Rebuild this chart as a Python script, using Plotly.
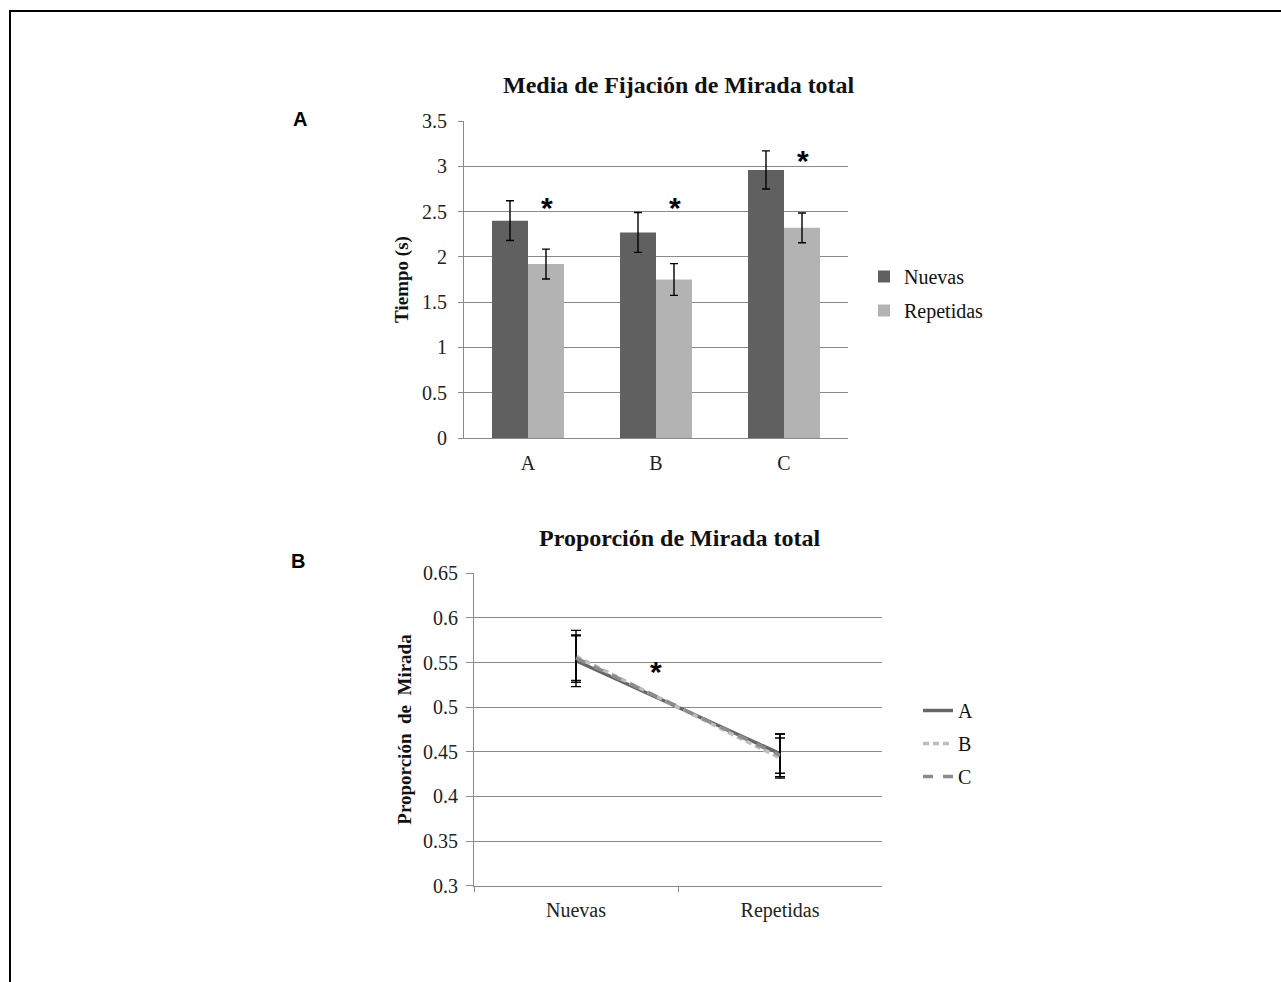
import plotly.graph_objects as go

W, H = 1281, 982

# ---- Data: panel A (bar chart) ----
categories = ["A", "B", "C"]
nuevas = [2.40, 2.27, 2.96]
nuevas_err = [0.22, 0.22, 0.21]
repetidas = [1.92, 1.75, 2.32]
repetidas_err = [0.165, 0.175, 0.165]
star_top_y = [2.59, 2.59, 3.11]

# ---- Data: panel B (line chart) ----
conditions = ["Nuevas", "Repetidas"]
prop_A = [0.552, 0.448]
err_A = [0.029, 0.022]
prop_B = [0.557, 0.443]
err_B = [0.029, 0.0225]
prop_C = [0.555, 0.446]
err_C = [0.025, 0.024]
star_bottom = (0.39, 0.545)

top_ticks = [0, 0.5, 1, 1.5, 2, 2.5, 3, 3.5]
top_ticktext = ["0", "0.5", "1", "1.5", "2", "2.5", "3", "3.5"]
bot_ticks = [0.3, 0.35, 0.4, 0.45, 0.5, 0.55, 0.6, 0.65]
bot_ticktext = ["0.3", "0.35", "0.4", "0.45", "0.5", "0.55", "0.6", "0.65"]

SERIF = "Liberation Serif, Times New Roman, serif"
SANS = "Liberation Sans, Arial, sans-serif"
GRID = "#8a8a8a"
DARK = "#606060"
LIGHT = "#b3b3b3"


def px(x):
    return x / W


def py(y):
    return 1 - y / H


fig = go.Figure()

fig.add_trace(go.Bar(
    x=categories, y=nuevas, name="Nuevas", marker=dict(color=DARK, line=dict(width=0)),
    error_y=dict(type="data", array=nuevas_err, color="black", thickness=1.4, width=4),
    xaxis="x", yaxis="y", legend="legend", legendgroup="n",
))
fig.add_trace(go.Bar(
    x=categories, y=repetidas, name="Repetidas", marker=dict(color=LIGHT, line=dict(width=0)),
    error_y=dict(type="data", array=repetidas_err, color="black", thickness=1.4, width=4),
    xaxis="x", yaxis="y", legend="legend", legendgroup="r",
))

line_specs = [
    ("A", prop_A, err_A, "#666666", "solid"),
    ("B", prop_B, err_B, "#bdbdbd", "6px,4px"),
    ("C", prop_C, err_C, "#8c8c8c", "10px,10px"),
]
for name, vals, errs, col, dash in line_specs:
    fig.add_trace(go.Scatter(
        x=conditions, y=vals, name=name, mode="lines",
        line=dict(color=col, width=3.5, dash=dash),
        error_y=dict(type="data", array=errs, color="black", thickness=1.4, width=5),
        xaxis="x2", yaxis="y2", legend="legend2", legendgroup=name,
    ))

tick_font = dict(family=SERIF, size=20, color="#222222")
axis_title_font = dict(family=SERIF, size=19, color="#111")

fig.update_layout(
    width=W, height=H,
    margin=dict(l=0, r=0, t=0, b=0, autoexpand=False),
    paper_bgcolor="white", plot_bgcolor="white",
    barmode="group", bargap=0.4375, bargroupgap=0,
    xaxis=dict(domain=[px(464), px(848)], anchor="y", type="category", automargin=False,
               range=[-0.5, 2.5],
               showgrid=False, showline=True, linecolor=GRID, linewidth=1,
               ticks="", tickfont=tick_font, ticklabelstandoff=7, fixedrange=True),
    yaxis=dict(domain=[py(438), py(121)], anchor="x", range=[0, 3.5], automargin=False,
               tickvals=top_ticks, ticktext=top_ticktext,
               showgrid=True, gridcolor=GRID, gridwidth=1,
               showline=True, linecolor=GRID, linewidth=1,
               ticks="outside", ticklen=5, tickcolor=GRID, tickfont=tick_font,
               ticklabelstandoff=7,
               zeroline=False,
               title=dict(text="<b>Tiempo (s)</b>", font=axis_title_font, standoff=8)),
    xaxis2=dict(domain=[px(474), px(882)], anchor="y2", type="category", automargin=False,
                range=[-0.5, 1.5],
                tickson="boundaries", ticks="outside", ticklen=5, tickcolor=GRID,
                showgrid=False, showline=True, linecolor=GRID, linewidth=1,
                tickfont=tick_font, ticklabelstandoff=6, fixedrange=True),
    yaxis2=dict(domain=[py(885.7), py(573.3)], anchor="x2", range=[0.3, 0.65], automargin=False,
                tickvals=bot_ticks, ticktext=bot_ticktext,
                showgrid=True, gridcolor=GRID, gridwidth=1,
                showline=True, linecolor=GRID, linewidth=1,
                ticks="outside", ticklen=7, tickcolor=GRID, tickfont=tick_font,
                ticklabelstandoff=4,
                zeroline=False,
                title=dict(text="<b>Proporción  de  Mirada</b>", font=axis_title_font, standoff=6)),
    legend=dict(x=px(864), y=py(257), xanchor="left", yanchor="top",
                font=dict(family=SERIF, size=20, color="#111"), bgcolor="rgba(0,0,0,0)",
                tracegroupgap=5, itemwidth=30),
    legend2=dict(x=px(918), y=py(691), xanchor="left", yanchor="top",
                 font=dict(family=SERIF, size=20, color="#111"), bgcolor="rgba(0,0,0,0)",
                 tracegroupgap=4, itemwidth=30),
    showlegend=True,
)

annotations = []
# Chart titles
annotations.append(dict(text="<b>Media de Fijación de Mirada total</b>", x=px(679), y=py(85),
                        xref="paper", yref="paper", showarrow=False, yanchor="middle",
                        font=dict(family=SERIF, size=24, color="#111")))
annotations.append(dict(text="<b>Proporción de Mirada total</b>", x=px(679), y=py(538),
                        xref="paper", yref="paper", showarrow=False, yanchor="middle",
                        font=dict(family=SERIF, size=24, color="#111")))
# Panel labels
annotations.append(dict(text="<b>A</b>", x=px(291), y=py(119), xref="paper", yref="paper",
                        showarrow=False, yanchor="middle",
                        font=dict(family=SANS, size=20, color="black")))
annotations.append(dict(text="<b>B</b>", x=px(289), y=py(561), xref="paper", yref="paper",
                        showarrow=False, yanchor="middle",
                        font=dict(family=SANS, size=20, color="black")))
# Significance stars
for cat, sy in zip(categories, star_top_y):
    annotations.append(dict(text="<b>*</b>", x=cat, y=sy, xref="x", yref="y", xshift=19, yshift=-4,
                            showarrow=False, yanchor="middle",
                            font=dict(family=SANS, size=30, color="black")))
annotations.append(dict(text="<b>*</b>", x=star_bottom[0], y=star_bottom[1], xref="x2", yref="y2",
                        showarrow=False, yanchor="middle", yshift=-4,
                        font=dict(family=SANS, size=30, color="black")))
fig.update_layout(annotations=annotations)

# Outer frame
fig.add_shape(type="rect", xref="paper", yref="paper",
              x0=px(10), y0=-0.05, x1=1.05, y1=py(11),
              line=dict(color="black", width=2), fillcolor="rgba(0,0,0,0)")

fig.write_html("out.html")
